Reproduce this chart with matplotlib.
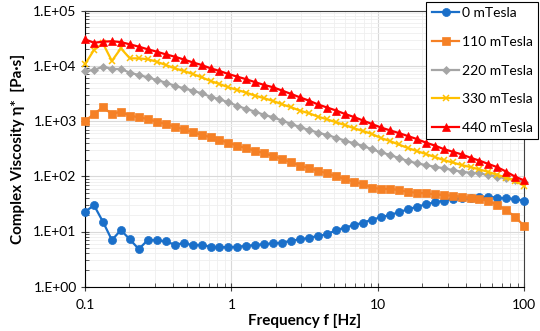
import numpy as np
import matplotlib
matplotlib.use("Agg")
import matplotlib.pyplot as plt
from matplotlib.ticker import FixedLocator, FuncFormatter, LogLocator, NullFormatter

plt.rcParams['font.family'] = ['Lato', 'DejaVu Sans']

# frequency sweep, 0.1 - 100 Hz (50 log-spaced points)
freq = [0.1, 0.1151, 0.1326, 0.1526, 0.1758, 0.2024, 0.2330, 0.2683, 0.3089, 0.3556,
        0.4095, 0.4715, 0.5429, 0.6251, 0.7197, 0.8286, 0.9541, 1.0985, 1.2649, 1.4563,
        1.6768, 1.9307, 2.2230, 2.5595, 2.9471, 3.3932, 3.9069, 4.4984, 5.1795, 5.9636,
        6.8665, 7.9060, 9.1030, 10.481, 12.068, 13.895, 15.999, 18.421, 21.210, 24.421,
        28.118, 32.375, 37.276, 42.919, 49.417, 56.899, 65.513, 75.431, 86.851, 100.0]

# complex viscosity [Pa.s]
visc_0 = [22.6, 30, 15, 7.0, 10.6, 7.2, 4.8, 7.0, 7.0, 6.6,
          5.8, 6.1, 5.7, 5.7, 5.3, 5.2, 5.2, 5.3, 5.5, 5.7,
          5.9, 6.1, 6.3, 6.8, 7.2, 7.7, 8.3, 8.9, 10.6, 11.7,
          13.1, 14.4, 16.4, 18.1, 19.9, 22.3, 25.2, 28.0, 31.0, 33.8,
          36.1, 38.8, 39.9, 41.0, 41.7, 42.7, 41.0, 39.9, 38.8, 35.7]
visc_110 = [1004, 1345, 1778, 1345, 1480, 1253, 1172, 1092, 975, 886,
            792, 710, 630, 567, 509, 455, 406, 359, 322, 291,
            261, 233, 206, 179, 156, 140, 126, 113, 101, 89,
            80, 72, 62, 59, 59, 56.5, 52, 50.5, 49, 47.2,
            45.8, 44.5, 42.7, 39.9, 38.3, 36.1, 30.2, 24.5, 18.1, 12.6]
visc_220 = [8090, 8430, 9680, 8790, 8790, 7530, 6840, 6210, 5560, 4970,
            4380, 3930, 3560, 3190, 2770, 2480, 2190, 1880, 1660, 1480,
            1290, 1172, 1016, 886, 772, 690, 617, 560, 500, 442,
            396, 354, 310, 272, 245, 214, 190, 172, 160, 149,
            140, 130, 121, 116, 113, 105, 98, 92, 86, 80]
visc_330 = [10700, 19400, 25600, 12300, 20800, 13700, 13700, 13200, 11900, 10400,
            9050, 8090, 7160, 6220, 5330, 4700, 4090, 3660, 3270, 2880,
            2590, 2310, 2010, 1778, 1542, 1384, 1202, 1078, 951, 849,
            741, 662, 584, 494, 436, 377, 326, 287, 254, 224,
            197, 178, 160, 147, 133, 120, 106, 95, 82, 67]
visc_440 = [30300, 26300, 27400, 28000, 27000, 24600, 22300, 20000, 18100, 16200,
            14700, 13100, 11600, 10400, 9050, 8090, 7130, 6370, 5720, 5050,
            4510, 4090, 3560, 3100, 2680, 2340, 2000, 1763, 1556, 1345,
            1186, 1026, 886, 766, 681, 608, 537, 474, 409, 361,
            312, 279, 250, 217, 192, 167, 146, 121, 98, 84]

labels = ['0 mTesla', '110 mTesla', '220 mTesla', '330 mTesla', '440 mTesla']
colors = ['#1a6fc9', '#f58025', '#a5a5a5', '#ffc000', '#ff0000']
markers = ['o', 's', 'D', 'x', '^']
msizes = [5.8, 5.6, 4.0, 5.0, 6.3]

fig = plt.figure(figsize=(5.4, 3.31), dpi=100)
ax = fig.add_axes([85 / 540, 1 - 286.7 / 331, (524.3 - 85) / 540, (286.7 - 10.7) / 331])

series = [visc_0, visc_110, visc_220, visc_330, visc_440]
for y, lab, c, m, ms in zip(series, labels, colors, markers, msizes):
    ax.plot(freq, y, color=c, marker=m, markersize=ms, linewidth=1.6,
            markeredgewidth=1.1 if m == 'x' else 0.5, markeredgecolor=c,
            label=lab, clip_on=False, zorder=3)

ax.set_xscale('log')
ax.set_yscale('log')
ax.set_xlim(0.1, 100)
ax.set_ylim(1, 1e5)

ax.xaxis.set_major_locator(FixedLocator([0.1, 1, 10, 100]))
ax.xaxis.set_major_formatter(FuncFormatter(lambda v, p: f"{v:g}"))
ax.xaxis.set_minor_locator(LogLocator(base=10, subs=np.arange(2, 10)))
ax.xaxis.set_minor_formatter(NullFormatter())
ax.yaxis.set_major_locator(FixedLocator([1, 10, 100, 1e3, 1e4, 1e5]))
ax.yaxis.set_major_formatter(FuncFormatter(lambda v, p: f"1.E{int(round(np.log10(v))):+03d}"))
ax.yaxis.set_minor_locator(LogLocator(base=10, subs=np.arange(2, 10)))
ax.yaxis.set_minor_formatter(NullFormatter())

ax.grid(True, which='major', color='#d9d9d9', linewidth=0.8)
ax.grid(True, which='minor', color='#efefef', linewidth=0.6)
ax.set_axisbelow(True)

ax.tick_params(which='major', direction='inout', length=6, width=0.8, labelsize=10, color='#404040')
ax.tick_params(which='minor', direction='in', length=3, width=0.6, color='#404040')
ax.tick_params(axis='x', pad=6)
ax.tick_params(axis='y', pad=3)

for s in ax.spines.values():
    s.set_color('#404040')
    s.set_linewidth(0.8)
ax.spines['left'].set_color('black')
ax.spines['bottom'].set_color('black')

ax.set_xlabel('Frequency f [Hz]', fontsize=11, fontweight='bold', labelpad=2)
ax.set_ylabel('Complex Viscosity η*  [Pa·s]', fontsize=11, fontweight='bold', labelpad=6)

leg = fig.legend(loc='upper right', bbox_to_anchor=(538 / 540, 1 - 1.7 / 331),
                 fontsize=10, frameon=True, fancybox=False, framealpha=1,
                 edgecolor='black', handlelength=2.0, handletextpad=0.15,
                 labelspacing=1.2, borderpad=0.4, borderaxespad=0)
leg.get_frame().set_linewidth(0.8)

fig.savefig('out.png', dpi=100)
